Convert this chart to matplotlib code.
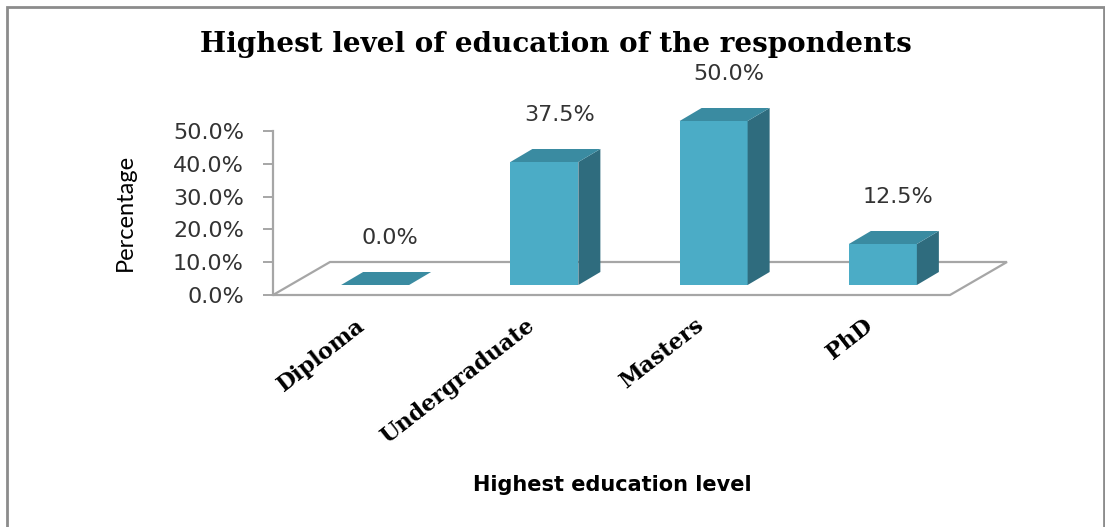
import matplotlib
matplotlib.use('Agg')
from matplotlib import pyplot as plt
from matplotlib.patches import Polygon, Rectangle
from matplotlib.transforms import ScaledTranslation

# datos del grafico
niveles = ['Diploma', 'Undergraduate', 'Masters', 'PhD']
porcentajes = [0.0, 37.5, 50.0, 12.5]
etiquetas = ['0.0%', '37.5%', '50.0%', '12.5%']
marcas_y = [0, 10, 20, 30, 40, 50]

frente = '#4BACC6'
arriba = '#3A8BA1'
lado = '#2F6C7E'
gris = '#A6A6A6'

fig = plt.figure(figsize=(11.05, 5.27), dpi=100)
ax = fig.add_axes([273 / 1105, 1 - 295 / 527, 677 / 1105, 164 / 527])
ax.set_xlim(-0.5, 3.5)
ax.set_ylim(0, 50)

# efecto 3D: desplazamientos en unidades de datos
px_x = 4 / 677
px_y = 50 / 164
suelo_dx, suelo_dy = 57 * px_x, 33 * px_y
barra_dx, barra_dy = 17.5 * px_x, 10 * px_y
prof_dx, prof_dy = 22 * px_x, 13 * px_y
ancho = 68 * px_x

# suelo
ax.add_patch(Polygon([(-0.5, 0), (3.5, 0), (3.5 + suelo_dx, suelo_dy), (-0.5 + suelo_dx, suelo_dy)],
                     closed=True, facecolor='white', edgecolor=gris, lw=1.6, clip_on=False, zorder=1))

for i, v in enumerate(porcentajes):
    x0 = i + barra_dx - ancho / 2
    x1 = x0 + ancho
    y0 = barra_dy
    y1 = barra_dy + v
    if v > 0:
        ax.bar(i + barra_dx, v, width=ancho, bottom=barra_dy, color=frente, zorder=3, clip_on=False)
        ax.add_patch(Polygon([(x1, y0), (x1 + prof_dx, y0 + prof_dy), (x1 + prof_dx, y1 + prof_dy), (x1, y1)],
                             closed=True, facecolor=lado, edgecolor='none', clip_on=False, zorder=3))
    ax.add_patch(Polygon([(x0, y1), (x1, y1), (x1 + prof_dx, y1 + prof_dy), (x0 + prof_dx, y1 + prof_dy)],
                         closed=True, facecolor=arriba, edgecolor='none', clip_on=False, zorder=3))
    ax.annotate(etiquetas[i], (i + barra_dx + 0.09, y1 + prof_dy), xytext=(0, 24.5),
                textcoords='offset points', ha='center', va='center', fontsize=16,
                color='#333333', family='DejaVu Sans', annotation_clip=False)

ax.spines['top'].set_visible(False)
ax.spines['right'].set_visible(False)
ax.spines['bottom'].set_visible(False)
ax.spines['left'].set_color(gris)
ax.spines['left'].set_linewidth(1.6)

ax.set_yticks(marcas_y)
ax.set_yticklabels([f'{m:.1f}%' for m in marcas_y], fontsize=16, color='#333333', family='DejaVu Sans')
ax.tick_params(axis='y', length=7, width=1.4, color=gris, pad=14)

ax.set_xticks(range(len(niveles)))
ax.set_xticklabels(niveles, rotation=38, ha='right', va='center', rotation_mode='anchor',
                   fontsize=16, fontweight='bold', family='DejaVu Serif')
ax.tick_params(axis='x', length=0, pad=20)
for lbl in ax.get_xticklabels():
    lbl.set_transform(lbl.get_transform() + ScaledTranslation(5 / 100, 0, fig.dpi_scale_trans))

fig.text(0.503, 1 - 44 / 527, 'Highest level of education of the respondents', ha='center', va='center',
         fontsize=20, fontweight='bold', family='DejaVu Serif')
fig.text(125 / 1105, 1 - 212 / 527, 'Percentage', rotation=90, ha='center', va='center',
         fontsize=17, family='Lato')
fig.text(612 / 1105, 1 - 485 / 527, 'Highest education level', ha='center', va='center',
         fontsize=15, fontweight='bold', family='DejaVu Sans')

# borde del grafico
fig.patches.append(Rectangle((7 / 1105, -0.05), 1097 / 1105, 1.05 - 7 / 527, transform=fig.transFigure,
                             fill=False, edgecolor='#8C8C8C', lw=2))

fig.savefig('out.png', dpi=100)
